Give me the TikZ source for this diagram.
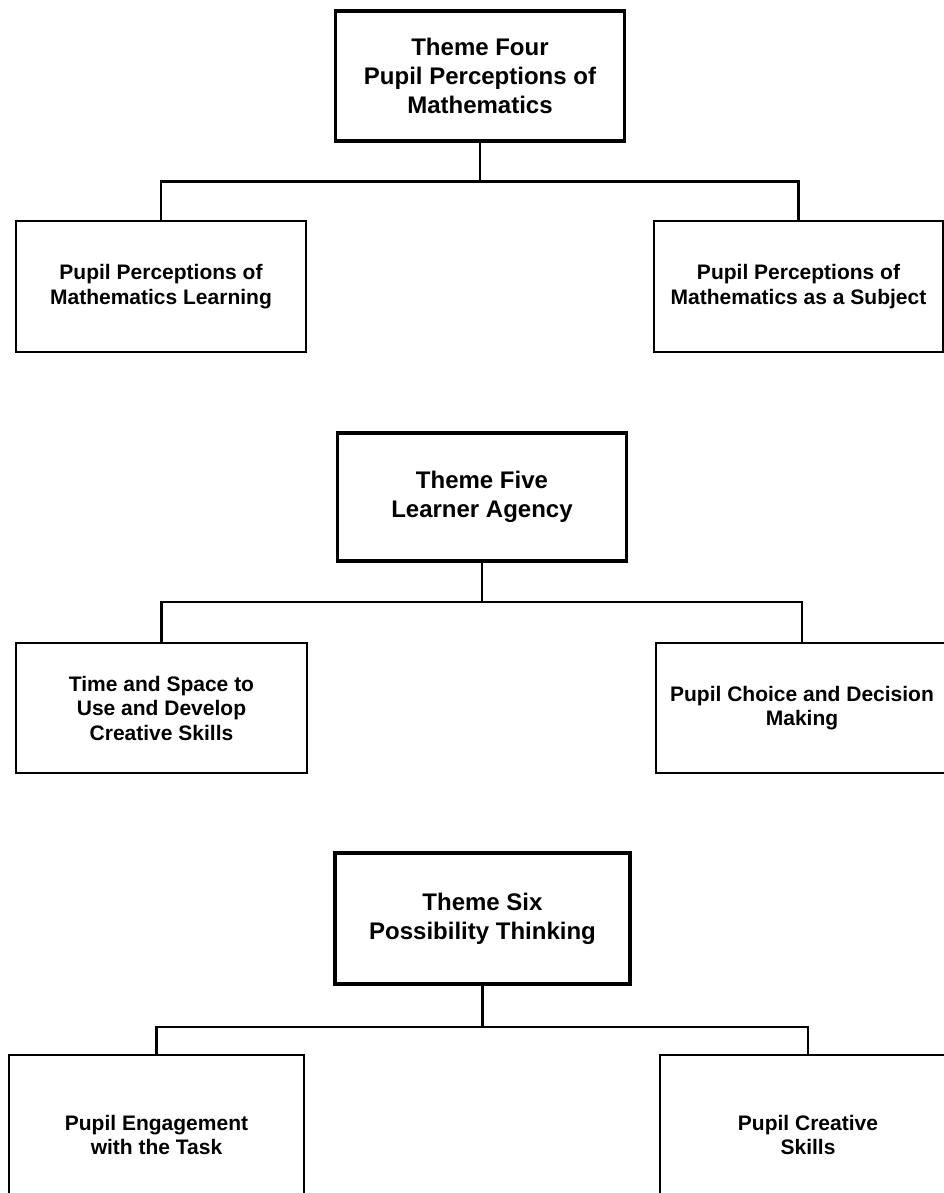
\documentclass[tikz,border=0pt]{standalone}
\usepackage{fontspec}
\setmainfont{Liberation Sans}
\begin{document}
\begin{tikzpicture}[x=1pt,y=-1pt,
  themebox/.style={draw=black, line width=3.8pt, fill=white, inner sep=0pt, outer sep=0pt,
    align=center, font=\bfseries\fontsize{24}{29}\selectfont},
  subbox/.style={draw=black, line width=2.4pt, fill=white, inner sep=0pt, outer sep=0pt,
    align=center, font=\bfseries\fontsize{21}{24.5}\selectfont},
  link/.style={draw=black, line width=2.6pt}]
\useasboundingbox (0,0) rectangle (944,1193);
\clip (0,0) rectangle (944,1193);
\fill[white] (0,0) rectangle (944,1193);

% Theme Four
\node[themebox, minimum width=289pt, minimum height=130pt] (t4) at (480,75.7)
  {Theme Four\\Pupil Perceptions of\\Mathematics};
\node[subbox, minimum width=290pt, minimum height=131pt] (t4a) at (161,286.5)
  {Pupil Perceptions of\\Mathematics Learning};
\node[subbox, minimum width=289pt, minimum height=131pt] (t4b) at (798.5,286.5)
  {Pupil Perceptions of\\Mathematics as a Subject};
\coordinate (j4) at (480,181.5);

% Theme Five
\node[themebox, minimum width=289pt, minimum height=128pt] (t5) at (482,497)
  {Theme Five\\Learner Agency};
\node[subbox, minimum width=291pt, minimum height=130pt] (t5a) at (161.5,708)
  {Time and Space to\\Use and Develop\\Creative Skills};
\node[subbox, minimum width=292pt, minimum height=130pt] (t5b) at (802,708)
  {Pupil Choice and Decision\\Making};
\coordinate (j5) at (482,602);

% Theme Six
\node[themebox, minimum width=295pt, minimum height=131pt] (t6) at (482.5,918.5)
  {Theme Six\\Possibility Thinking};
\node[subbox, minimum width=295pt, minimum height=160pt] (t6a) at (156.5,1135)
  {Pupil Engagement\\with the Task};
\node[subbox, minimum width=296pt, minimum height=160pt] (t6b) at (808,1135)
  {Pupil Creative\\Skills};
\coordinate (j6) at (482.5,1027);

% connectors: trunk down from each theme, then a bar across to both sub-themes
\foreach \t/\j/\a/\b in {t4/j4/t4a/t4b, t5/j5/t5a/t5b, t6/j6/t6a/t6b}{
  \draw[link] (\t.south) -- (\j);
  \draw[link] (\a.north) |- (\j) -| (\b.north);
}
\end{tikzpicture}
\end{document}
